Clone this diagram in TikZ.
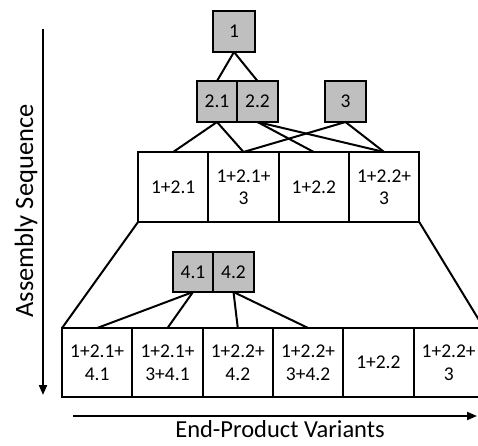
\documentclass[tikz,border=0pt]{standalone}
\usepackage{fontspec}
\setmainfont{Carlito}
\usetikzlibrary{positioning,arrows.meta}
\definecolor{partgray}{HTML}{BFBFBF}

\begin{document}
\begin{tikzpicture}[x=1pt,y=-1pt,
    part/.style={draw, line width=2pt, fill=partgray, minimum width=40.5pt,
      minimum height=41pt, inner sep=0pt, outer sep=0pt,
      font=\fontsize{19.5}{22}\selectfont},
    variant/.style={draw, line width=2pt, fill=white, minimum width=70.3pt,
      minimum height=70pt, inner sep=0pt, outer sep=0pt, align=center,
      font=\fontsize{19.5}{22.5}\selectfont},
    link/.style={line width=2pt},
    axis/.style={line width=2pt, -{Triangle[length=10pt,width=8pt]}}]
        \useasboundingbox (0,0) rectangle (478,445);

        % Parts
        \node[part, minimum width=42pt] (p1) at (234,31.5) {1};
        \node[part] (p21) at (217,101.5) {2.1};
        \node[part, right=0pt of p21] (p22) {2.2};
        \node[part] (p3) at (345.5,101.5) {3};

        % First variants
        \node[variant] (va) at (173.2,187) {1+2.1};
        \node[variant, right=0pt of va] (vb) {1+2.1+\\3};
        \node[variant, right=0pt of vb] (vc) {1+2.2};
        \node[variant, right=0pt of vc] (vd) {1+2.2+\\3};

        % Parts 4
        \node[part, minimum height=40pt] (p41) at (193,272) {4.1};
        \node[part, minimum height=40pt, right=0pt of p41] (p42) {4.2};

        % End-product variants
        \node[variant, minimum height=69pt] (ea) at (97.2,362.5) {1+2.1+\\4.1};
        \node[variant, minimum height=69pt, right=0pt of ea] (eb) {1+2.1+\\3+4.1};
        \node[variant, minimum height=69pt, right=0pt of eb] (ec) {1+2.2+\\4.2};
        \node[variant, minimum height=69pt, right=0pt of ec] (ed) {1+2.2+\\3+4.2};
        \node[variant, minimum height=69pt, right=0pt of ed] (ee) {1+2.2};
        \node[variant, minimum height=69pt, right=0pt of ee] (ef) {1+2.2+\\3};

        % Links
        \draw[link] (p1.south) -- (p21.north);
        \draw[link] (p1.south) -- (p22.north);
        \draw[link] (p21.south) -- (va.north);
        \draw[link] (p21.south) -- (vb.north);
        \draw[link] (p22.south) -- (vc.north);
        \draw[link] (p22.south) -- (vd.north);
        \draw[link] (p3.south) -- (vb.north);
        \draw[link] (p3.south) -- (vd.north);
        \draw[link] (p41.south) -- (ea.north);
        \draw[link] (p41.south) -- (eb.north);
        \draw[link] (p42.south) -- (ec.north);
        \draw[link] (p42.south) -- (ed.north);
        \draw[link] (va.south west) -- (ea.north west);
        \draw[link] (vd.south east) -- (ef.north east);

        % Axes
        \coordinate (seqtop) at (43,29);
        \coordinate (seqend) at (43,395);
        \coordinate (varstart) at (73,416);
        \coordinate (varend) at (477,416);
        \draw[axis] (seqtop) -- (seqend);
        \draw[axis] (varstart) -- (varend);
        \node[rotate=90, anchor=base, font=\fontsize{26.5}{30}\selectfont] (seqlabel) at (33,211) {Assembly Sequence};
        \node[anchor=base, inner sep=0pt, font=\fontsize{24.5}{28}\selectfont] (varlabel) at (280,437) {End-Product Variants};
      \end{tikzpicture}
\end{document}
